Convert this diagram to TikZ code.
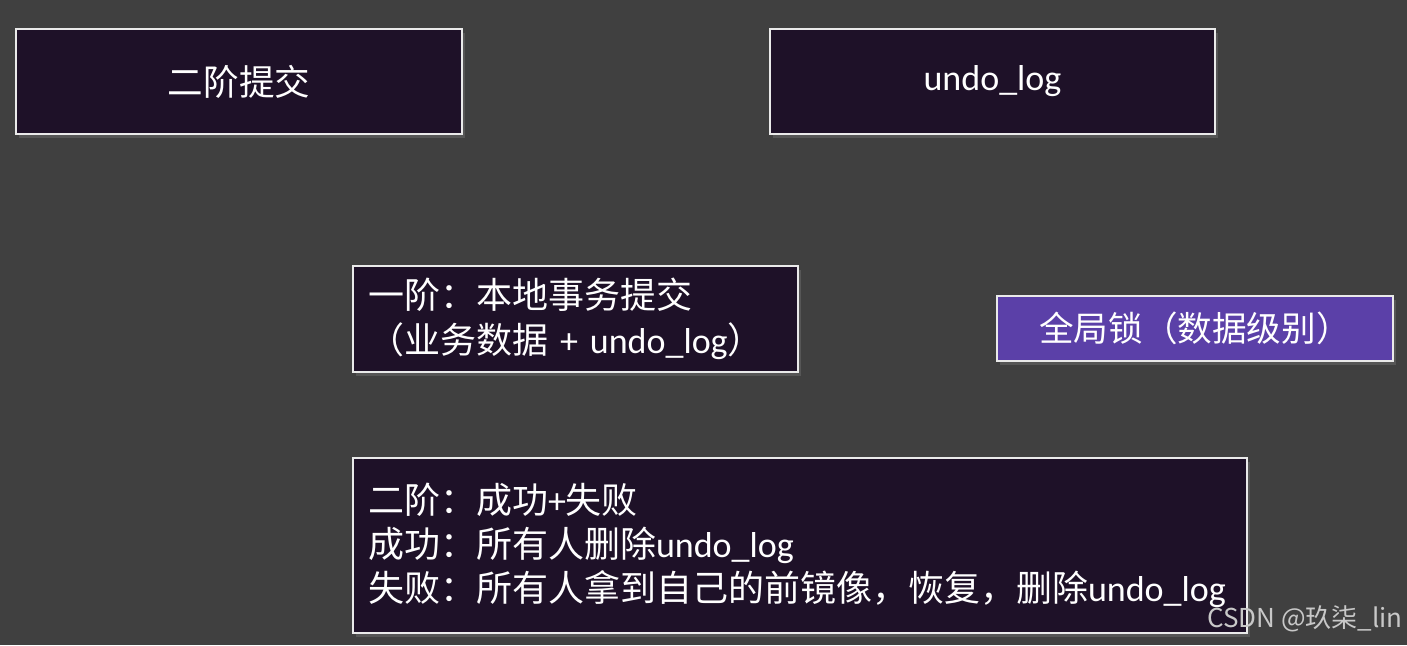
\documentclass[tikz,border=0pt]{standalone}
\usepackage{fontspec}
\setmainfont{Noto Sans CJK SC}
\newfontfamily\lat{Carlito}
\usetikzlibrary{shadows}
\definecolor{bg}{HTML}{404040}
\definecolor{boxfill}{HTML}{1E1128}
\definecolor{purplefill}{HTML}{5B40A8}
\definecolor{edge}{HTML}{EAEAEA}
\definecolor{wmark}{HTML}{C8C8C8}
\newcommand{\ulog}{{\lat undo\_log}}
\tikzset{
  box/.style={draw=edge, line width=1pt, fill=boxfill, text=white, inner sep=0pt,
    drop shadow={opacity=0.35, shadow xshift=1.5pt, shadow yshift=-2pt}},
  leftbox/.style={box, align=left, inner xsep=7.5pt},
}
\begin{document}
\begin{tikzpicture}[x=0.5pt,y=-0.5pt]
\fill[bg] (0,0) rectangle (1407,645);
\useasboundingbox (0,0) rectangle (1407,645);
\node[box, minimum width=223pt, minimum height=52.5pt, font=\fontsize{17.8}{22}\selectfont] (twopc) at (239,81.5) {二阶提交};
\node[box, minimum width=222.5pt, minimum height=52.5pt, font=\fontsize{18}{22}\selectfont] (undo) at (992.5,81.5) {\ulog};
\node[leftbox, minimum width=222.5pt, minimum height=53pt, text width=207.5pt, font=\fontsize{18}{22.5}\selectfont] (phase1) at (575.5,319) {一阶：本地事务提交\\（业务数据 {\lat +} \ulog）};
\node[box, fill=purplefill, minimum width=198pt, minimum height=32.5pt, font=\fontsize{17.3}{21}\selectfont] (lock) at (1195,328.5) {全局锁（数据级别）};
\node[leftbox, minimum width=447pt, minimum height=87.5pt, text width=432pt, font=\fontsize{18}{22}\selectfont] (phase2) at (800,545.5) {二阶：成功{\lat +}失败\\成功：所有人删除\ulog\\失败：所有人拿到自己的前镜像，恢复，删除\ulog};
\node[anchor=east, text=wmark, inner sep=0pt, font=\fontsize{13}{15}\selectfont] (wm) at (1403,619) {CSDN @玖柒\_lin};
\end{tikzpicture}
\end{document}
